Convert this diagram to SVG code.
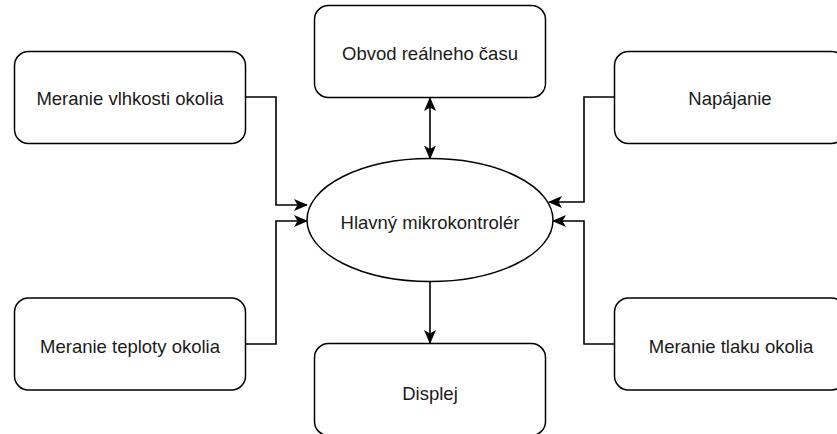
<svg xmlns="http://www.w3.org/2000/svg" width="837" height="434" viewBox="0 0 837 434">
<style>
.box{fill:#fff;stroke:#000;stroke-width:1.5}
.lbl{font-family:"Liberation Sans",Arial,sans-serif;font-size:18.5px;fill:#1a1a1a;text-anchor:middle}
.edge{fill:none;stroke:#000;stroke-width:1.6}
</style>
<defs>
<marker id="arr" viewBox="0 0 14 12" refX="13" refY="6" markerWidth="14" markerHeight="12" markerUnits="userSpaceOnUse" orient="auto-start-reverse">
<path d="M0,0 L14,6 L0,12 L3.5,6 z" fill="#000"/>
</marker>
</defs>
<rect width="837" height="434" fill="#fff"/>
<g id="connectors">
<path class="edge" d="M245.5 97 H276 V205 H307" marker-end="url(#arr)"/>
<path class="edge" d="M245.5 344 H276 V221 H307" marker-end="url(#arr)"/>
<path class="edge" d="M614.5 97 H584 V202 H549" marker-end="url(#arr)"/>
<path class="edge" d="M614.5 344 H584 V221 H553" marker-end="url(#arr)"/>
<path class="edge" d="M430 98 V158.5" marker-start="url(#arr)" marker-end="url(#arr)"/>
<path class="edge" d="M430 282 V343" marker-end="url(#arr)"/>
</g>
<g id="node-vlhkost">
<rect class="box" x="14.5" y="51.5" width="231" height="92" rx="14"/>
<text class="lbl" x="130" y="105">Meranie vlhkosti okolia</text>
</g>
<g id="node-obvod">
<rect class="box" x="314.5" y="5.5" width="231" height="92" rx="14"/>
<text class="lbl" x="430" y="60">Obvod reálneho času</text>
</g>
<g id="node-napajanie">
<rect class="box" x="614.5" y="51.5" width="231" height="92" rx="14"/>
<text class="lbl" x="730" y="105">Napájanie</text>
</g>
<g id="node-mcu">
<ellipse class="box" cx="430" cy="220" rx="123" ry="61.5"/>
<text class="lbl" x="430" y="229">Hlavný mikrokontrolér</text>
</g>
<g id="node-teplota">
<rect class="box" x="14.5" y="298" width="231" height="92" rx="14"/>
<text class="lbl" x="130" y="353">Meranie teploty okolia</text>
</g>
<g id="node-tlak">
<rect class="box" x="614.5" y="298" width="231" height="92" rx="14"/>
<text class="lbl" x="731" y="353">Meranie tlaku okolia</text>
</g>
<g id="node-displej">
<rect class="box" x="314.5" y="343.5" width="231" height="92" rx="14"/>
<text class="lbl" x="430" y="400">Displej</text>
</g>
</svg>
